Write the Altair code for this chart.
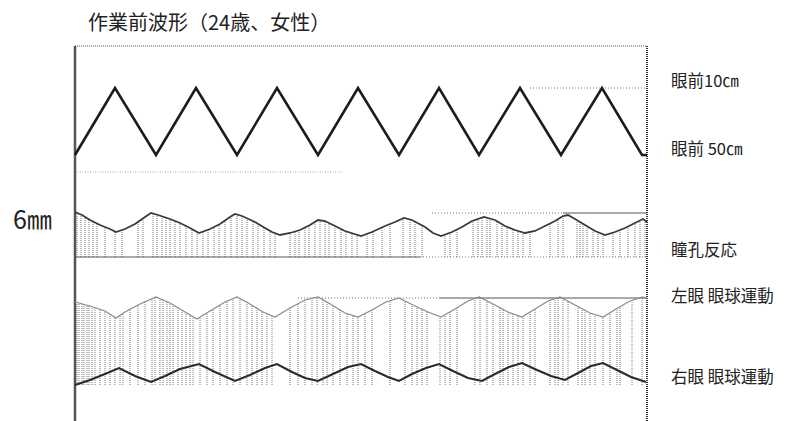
import altair as alt
import pandas as pd

# ---- data (t: sample position along the record, d: level, measured downward) ----
tri_t = [0, 40, 81, 121, 162, 202, 243, 283, 324, 364, 404, 445, 486, 527, 567, 572]
tri_d = [109, 42, 109, 42, 109, 42, 109, 42, 109, 42, 109, 42, 109, 42, 109, 109]

pupil_t = [0, 7, 15, 25, 35, 41, 50, 60, 70, 76, 83, 95, 105, 115, 124, 135, 145, 155, 160, 167,
           180, 190, 197, 205, 215, 225, 235, 243, 250, 260, 270, 286, 297, 310, 320, 329, 337,
           350, 358, 366, 377, 387, 397, 409, 420, 430, 440, 450, 460, 470, 480, 488, 493, 500,
           510, 520, 530, 540, 550, 560, 568, 572]
pupil_d = [166, 169, 174, 179, 183, 186, 183, 178, 171, 167, 169, 173, 177, 182, 187, 183, 178, 171, 168, 170,
           176, 182, 186, 189, 187, 184, 179, 174, 175, 180, 185, 190, 186, 180, 176, 172, 174,
           181, 187, 190, 186, 181, 175, 171, 174, 180, 184, 187, 185, 180, 175, 170, 169, 173,
           179, 185, 189, 186, 182, 177, 173, 176]

left_t = [0, 15, 30, 41, 50, 65, 81, 95, 110, 122, 135, 150, 162, 175, 188, 200, 215, 230, 243, 257,
          270, 283, 297, 311, 324, 338, 353, 366, 380, 393, 404, 418, 433, 447, 460, 473, 485, 500,
          515, 528, 541, 555, 568, 572]
left_d = [256, 260, 265, 272, 266, 258, 251, 257, 266, 273, 265, 256, 251, 258, 266, 271, 262, 254, 251, 259,
          267, 271, 264, 256, 252, 259, 266, 271, 263, 255, 251, 258, 266, 271, 263, 255, 251, 259,
          267, 271, 263, 255, 251, 253]

right_t = [0, 15, 30, 44, 60, 76, 90, 105, 124, 140, 160, 175, 190, 202, 217, 230, 243, 258, 273, 286,
           300, 313, 324, 337, 351, 364, 378, 393, 407, 420, 434, 447, 462, 476, 490, 503, 516, 528,
           542, 556, 571]
right_d = [339, 334, 328, 322, 330, 336, 330, 323, 318, 326, 335, 329, 322, 318, 326, 332, 335, 328, 321, 318,
           325, 331, 335, 328, 322, 318, 325, 332, 335, 328, 321, 317, 324, 330, 334, 327, 320, 317,
           324, 331, 336]

pupil_ticks = [2, 6, 10, 14, 18, 22, 30, 40, 47, 63, 68, 78, 82, 87, 91, 95, 100, 105, 111, 117, 122,
               128, 133, 139, 144, 150, 156, 162, 167, 172, 178, 183, 189, 195, 200, 215, 220, 224,
               230, 234, 240, 245, 250, 254, 260, 266, 271, 277, 282, 292, 298, 307, 315, 328, 335,
               340, 347, 370, 375, 382, 398, 403, 407, 412, 415, 422, 427, 432, 438, 443, 448, 455,
               475, 483, 488, 502, 505, 508, 512, 518, 523, 528, 538, 545, 553, 560, 565, 570]
eye_ticks = [2, 4, 7, 9, 12, 14, 17, 20, 25, 30, 35, 40, 45, 48, 55, 63, 70, 77, 80, 85, 88, 92, 95,
             98, 103, 107, 111, 115, 118, 125, 132, 138, 145, 152, 158, 165, 172, 177, 182, 187, 192,
             197, 215, 223, 230, 237, 242, 248, 252, 258, 265, 272, 278, 283, 290, 297, 315, 330,
             337, 342, 347, 352, 365, 370, 375, 382, 400, 405, 412, 418, 425, 428, 433, 438, 443,
             448, 455, 460, 475, 480, 483, 488, 493, 503, 507, 510, 515, 520, 528, 535, 542, 545,
             557, 567, 572]

# horizontal reference segments: start, end, level, style
seg_t = [0, 455, 357, 488, 0, 345, 223, 365]
seg_t2 = [268, 572, 488, 572, 345, 572, 365, 572]
seg_d = [126, 42, 167, 167, 211, 211, 252, 252]
seg_style = ["faint", "dot", "dot", "solid", "solid", "dot", "dot", "solid"]

title_text = "作業前波形（24歳、女性）"
scale_text = "6㎜"
right_labels = ["眼前10㎝", "眼前 50㎝", "瞳孔反応", "左眼 眼球運動", "右眼 眼球運動"]
right_label_d = [36, 104, 205, 251, 332]

W, H = 574, 375
FONT = "Noto Sans CJK JP"

xs = alt.Scale(domain=[0, W], nice=False, zero=False)
ys = alt.Scale(domain=[0, H], nice=False, zero=False, reverse=True)


def X(f):
    return alt.X(f, type="quantitative", scale=xs, axis=None)


def Y(f):
    return alt.Y(f, type="quantitative", scale=ys, axis=None)


tri = pd.DataFrame({"t": tri_t, "d": tri_d})
pupil = pd.DataFrame({"t": pupil_t, "d": pupil_d, "top": [150] * len(pupil_t)})
left = pd.DataFrame({"t": left_t, "d": left_d, "top": [244] * len(left_t)})
right = pd.DataFrame({"t": right_t, "d": right_d})
pt = pd.DataFrame({"t": pupil_ticks, "d": [150] * len(pupil_ticks), "d2": [211] * len(pupil_ticks)})
et = pd.DataFrame({"t": eye_ticks, "d": [244] * len(eye_ticks), "d2": [340] * len(eye_ticks)})
segs = pd.DataFrame({"t": seg_t, "t2": seg_t2, "d": seg_d, "style": seg_style})
frame = pd.DataFrame({"t": [0, 0, W - 2], "t2": [0, W - 2, W - 2], "d": [0, 0, 0], "d2": [H, 0, H],
                      "kind": ["left", "top", "right"]})
labs = pd.DataFrame({"t": [596] * len(right_labels), "d": right_label_d, "text": right_labels})

layers = []

# vertical hatching
layers.append(alt.Chart(pt).mark_rule(color="#7a7a7a", strokeWidth=1, strokeDash=[1, 1])
              .encode(x=X("t"), y=Y("d"), y2="d2"))
layers.append(alt.Chart(et).mark_rule(color="#7a7a7a", strokeWidth=1, strokeDash=[1, 1])
              .encode(x=X("t"), y=Y("d"), y2="d2"))
# white masks above traces
layers.append(alt.Chart(pupil).mark_area(color="white", opacity=1)
              .encode(x=X("t"), y=Y("d"), y2="top"))
layers.append(alt.Chart(left).mark_area(color="white", opacity=1)
              .encode(x=X("t"), y=Y("d"), y2="top"))

# horizontal segments
layers.append(alt.Chart(segs).transform_filter(alt.datum.style == "solid")
              .mark_rule(color="#555", strokeWidth=1)
              .encode(x=X("t"), x2="t2", y=Y("d")))
layers.append(alt.Chart(segs).transform_filter(alt.datum.style == "dot")
              .mark_rule(color="#777", strokeWidth=1, strokeDash=[1, 2])
              .encode(x=X("t"), x2="t2", y=Y("d")))
layers.append(alt.Chart(segs).transform_filter(alt.datum.style == "faint")
              .mark_rule(color="#aaa", strokeWidth=1, strokeDash=[1, 1.5])
              .encode(x=X("t"), x2="t2", y=Y("d")))

# frame
layers.append(alt.Chart(frame).transform_filter(alt.datum.kind == "left")
              .mark_rule(color="#555", strokeWidth=2.5)
              .encode(x=X("t"), x2="t2", y=Y("d"), y2="d2"))
layers.append(alt.Chart(frame).transform_filter(alt.datum.kind == "top")
              .mark_rule(color="#555", strokeWidth=1, strokeDash=[1, 1])
              .encode(x=X("t"), x2="t2", y=Y("d"), y2="d2"))
layers.append(alt.Chart(frame).transform_filter(alt.datum.kind == "right")
              .mark_rule(color="#333", strokeWidth=2, strokeDash=[1, 1])
              .encode(x=X("t"), x2="t2", y=Y("d"), y2="d2"))

# traces
layers.append(alt.Chart(tri).mark_line(color="#1c1c1c", strokeWidth=2.6, strokeJoin="miter")
              .encode(x=X("t"), y=Y("d")))
layers.append(alt.Chart(pupil).mark_line(color="#3a3a3a", strokeWidth=1.8)
              .encode(x=X("t"), y=Y("d")))
layers.append(alt.Chart(left).mark_line(color="#8a8a8a", strokeWidth=1.2)
              .encode(x=X("t"), y=Y("d")))
layers.append(alt.Chart(right).mark_line(color="#2a2a2a", strokeWidth=2)
              .encode(x=X("t"), y=Y("d")))

# texts
layers.append(alt.Chart(pd.DataFrame({"t": [13], "d": [-22], "text": [title_text]}))
              .mark_text(align="left", baseline="middle", font=FONT, fontSize=20, color="#222")
              .encode(x=X("t"), y=Y("d"), text="text:N"))
layers.append(alt.Chart(pd.DataFrame({"t": [-62], "d": [175], "text": [scale_text]}))
              .mark_text(align="left", baseline="middle", font=FONT, fontSize=25, color="#222")
              .encode(x=X("t"), y=Y("d"), text="text:N"))
layers.append(alt.Chart(labs)
              .mark_text(align="left", baseline="middle", font=FONT, fontSize=16.5, color="#222")
              .encode(x=X("t"), y=Y("d"), text="text:N"))

chart = alt.layer(*layers).properties(
    width=W, height=H,
    autosize=alt.AutoSizeParams(type="none"),
    padding={"left": 67, "top": 38, "right": 131, "bottom": 0},
).configure_view(stroke=None)

chart.save("out.html", embed_options={"renderer": "svg", "actions": False})
